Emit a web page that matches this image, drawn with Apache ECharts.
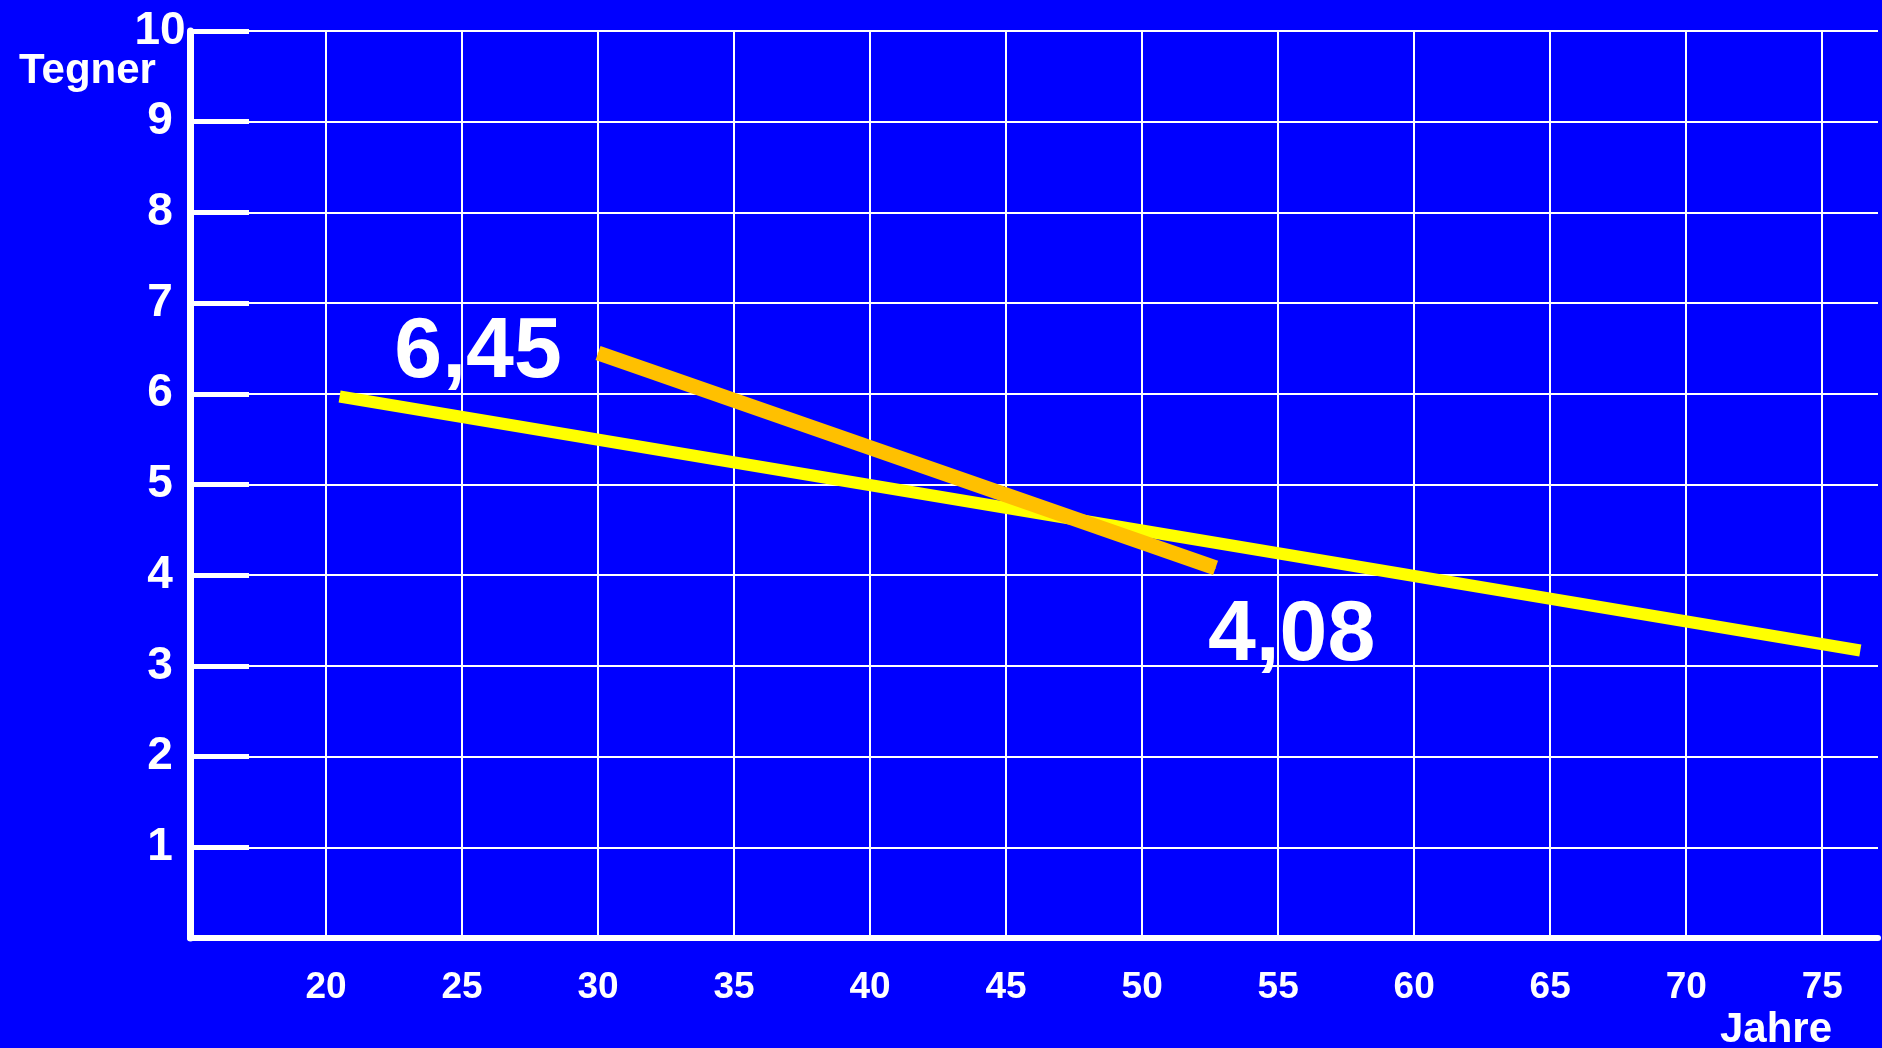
<!DOCTYPE html>
<html>
<head>
<meta charset="utf-8">
<title>Tegner</title>
<script src="https://cdn.jsdelivr.net/npm/echarts@6/dist/echarts.min.js"></script>
<style>
  html, body { margin: 0; padding: 0; background: #0000ff; }
  #chart { width: 1882px; height: 1048px; }
</style>
</head>
<body>
<div id="chart"></div>
<script>
// Long trend line (yellow)
const longAges = [20.5, 76.4];
const longValues = [5.97, 3.17];

// Short trend line (orange) with its end values
const shortAges = [30, 52.7];
const shortValues = [6.45, 4.08];
const shortLabels = ['6,45', '4,08'];

// Axis titles
const yTitle = 'Tegner';
const xTitle = 'Jahre';

const FONT = '"Liberation Sans", Arial, Helvetica, sans-serif';

const longData = longAges.map((a, i) => [a, longValues[i]]);
const shortData = shortAges.map((a, i) => ({
  value: [a, shortValues[i]],
  label: {
    show: true,
    formatter: shortLabels[i],
    position: 'inside',
    offset: i === 0 ? [-120, 0] : [76, 68]
  }
}));

const chart = echarts.init(document.getElementById('chart'));
chart.setOption({
  backgroundColor: '#0000ff',
  animation: false,
  grid: { left: 190, top: 31, right: 4, bottom: 110 },
  xAxis: {
    type: 'value',
    min: 15,
    max: 77.05,
    interval: 5,
    axisLine: { show: true, onZero: false, lineStyle: { color: '#ffffff', width: 6 } },
    axisTick: { show: false },
    splitLine: { show: true, showMaxLine: false, lineStyle: { color: '#ffffff', width: 2 } },
    axisLabel: {
      showMinLabel: false,
      showMaxLabel: false,
      color: '#ffffff',
      fontFamily: FONT,
      fontWeight: 'bold',
      fontSize: 37,
      margin: 31
    }
  },
  yAxis: {
    type: 'value',
    min: 0,
    max: 10,
    interval: 1,
    axisLine: { show: true, onZero: false, lineStyle: { color: '#ffffff', width: 7 } },
    axisTick: { show: true, inside: true, length: 59, lineStyle: { color: '#ffffff', width: 5 } },
    splitLine: { show: true, lineStyle: { color: '#ffffff', width: 2 } },
    axisLabel: {
      showMinLabel: false,
      color: '#ffffff',
      fontFamily: FONT,
      fontWeight: 'bold',
      fontSize: 46,
      align: 'center',
      margin: 30
    }
  },
  graphic: [
    {
      type: 'text',
      left: 19,
      top: 50,
      style: { text: yTitle, fill: '#ffffff', font: 'bold 42px ' + FONT }
    },
    {
      type: 'text',
      left: 1720,
      top: 1009,
      style: { text: xTitle, fill: '#ffffff', font: 'bold 42px ' + FONT }
    }
  ],
  series: [
    {
      type: 'line',
      data: longData,
      symbol: 'none',
      lineStyle: { color: '#ffff00', width: 12, cap: 'butt' },
      z: 3
    },
    {
      type: 'line',
      data: shortData,
      symbol: 'circle',
      symbolSize: 1,
      showSymbol: true,
      itemStyle: { color: '#ffc000' },
      lineStyle: { color: '#ffc000', width: 15, cap: 'butt' },
      label: {
        color: '#ffffff',
        fontFamily: FONT,
        fontWeight: 'bold',
        fontSize: 86
      },
      z: 4
    }
  ]
});
</script>
</body>
</html>
